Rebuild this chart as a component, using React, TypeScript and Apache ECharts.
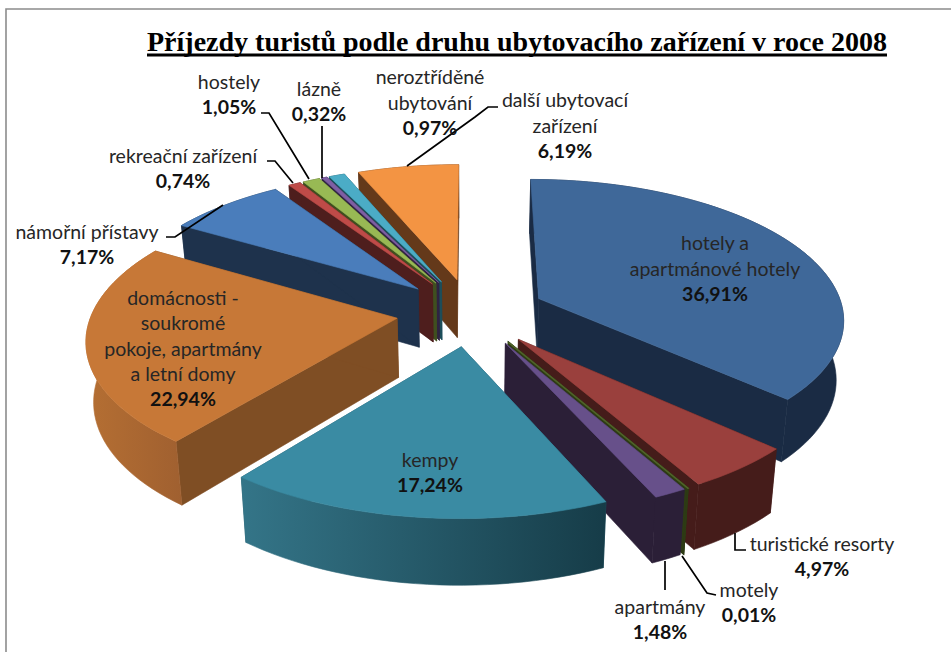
import React, { useEffect, useRef } from "react";
import * as echarts from "echarts";

const titleText = "Příjezdy turistů podle druhu ubytovacího zařízení v roce 2008";
const categories = [
  "hotely a apartmánové hotely", "turistické resorty", "motely", "apartmány", "kempy",
  "domácnosti - soukromé pokoje, apartmány a letní domy", "námořní přístavy", "rekreační zařízení",
  "hostely", "lázně", "neroztříděné ubytování", "další ubytovací zařízení",
];
const values = [36.91, 4.97, 0.01, 1.48, 17.24, 22.94, 7.17, 0.74, 1.05, 0.32, 0.97, 6.19];
const labelLines = [
  ["hotely a", "apartmánové hotely"], ["turistické resorty"], ["motely"], ["apartmány"], ["kempy"],
  ["domácnosti -", "soukromé", "pokoje, apartmány", "a letní domy"], ["námořní přístavy"], ["rekreační zařízení"],
  ["hostely"], ["lázně"], ["neroztříděné", "ubytování"], ["další ubytovací", "zařízení"],
];
const labelAnchors = [
  [715, 268], [822, 556], [749, 602], [660, 619], [430, 472],
  [183, 348], [87, 244], [183, 168], [229, 94], [319, 101], [430, 102], [565, 125],
];
const leaderLines = [
  [[166, 237], [175, 237], [223, 205]],
  [[267, 161], [275, 161], [293, 183]],
  [[261, 113], [269, 113], [309, 179]],
  [[322, 126], [322, 178]],
  [[407, 166], [475, 117], [488, 107], [498, 107]],
  [[735, 533], [735, 550], [746, 550]],
  [[682, 556], [707, 593], [716, 595]],
  [[665, 561], [665, 590]],
];
const topColors = ["#3F6899", "#9A403D", "#4F6228", "#67508A", "#3A8BA3", "#C77837", "#4A7DBB", "#BE4B48", "#98B954", "#7E5FA3", "#4BACC6", "#F39443"];
const radialColors = ["#1A2B44", "#451C1A", "#2D3B14", "#2B1F37", "#1F5566", "#7F4E24", "#1E324C", "#4E1E1D", "#3F4F1F", "#2F2341", "#1D4E5A", "#64391A"];
const outerFrom = ["#1A2B44", "#451C1A", "#2D3B14", "#2B1F37", "#347588", "#B56F33", "#1E324C", "#4E1E1D", "#3F4F1F", "#2F2341", "#1D4E5A", "#64391A"];
const outerTo = ["#1A2B44", "#451C1A", "#2D3B14", "#2B1F37", "#163C48", "#A06030", "#1E324C", "#4E1E1D", "#3F4F1F", "#2F2341", "#1D4E5A", "#64391A"];

// view of the tilted disc
const CX = 471, CY = 312, F = 305, G = 138.5, C = 0.134, EXPLODE = 0.245, H = 59, SHRINK = 0.98;

const rad = (d: number) => (d * Math.PI) / 180;
function topPt(u: number, v: number) {
  const den = 1 + C * v;
  return [CX + (F * u) / den, CY - (G * v) / den];
}
function botPt(u: number, v: number) {
  const den = 1 + C * v;
  const p = topPt(u, v);
  return [CX + SHRINK * (p[0] - CX), CY + SHRINK * (p[1] - CY) + H / den];
}

const total = values.reduce((a, b) => a + b, 0);
let acc = 0;
const sliceRows = values.map((v, i) => {
  const s = (acc / total) * 360;
  acc += v;
  return [s, (acc / total) * 360, i, v];
});
// back-to-front painting order
const paintRows = [...sliceRows].sort(
  (a, b) => Math.cos(rad((b[0] + b[1]) / 2)) - Math.cos(rad((a[0] + a[1]) / 2))
);

function renderSlice(_p: any, api: any) {
  const a0 = api.value(0), a1 = api.value(1), i = api.value(2), val = api.value(3);
  const m = rad((a0 + a1) / 2);
  const ox = EXPLODE * Math.sin(m), oy = EXPLODE * Math.cos(m);
  const disc: number[][] = [];
  const steps = Math.max(1, Math.ceil((a1 - a0) / 2));
  for (let k = 0; k <= steps; k++) {
    const t = rad(a0 + ((a1 - a0) * k) / steps);
    disc.push([ox + Math.sin(t), oy + Math.cos(t)]);
  }
  const first = disc[0], last = disc[disc.length - 1];
  const sw = val < 0.1 ? 1.6 : 0.6;
  const poly = (points: number[][], fill: any, stroke: any, w = sw) => ({
    type: "polygon", shape: { points }, style: { fill, stroke, lineWidth: w }, silent: true,
  });
  const radial = (e: number[]) =>
    poly([topPt(ox, oy), topPt(e[0], e[1]), botPt(e[0], e[1]), botPt(ox, oy)], radialColors[i], radialColors[i]);
  const outerPts = [...disc.map((d) => topPt(d[0], d[1])), ...disc.slice().reverse().map((d) => botPt(d[0], d[1]))];
  const outerFill = {
    type: "linear", x: 0, y: 0, x2: 1, y2: 0,
    colorStops: [{ offset: 0, color: outerFrom[i] }, { offset: 1, color: outerTo[i] }],
  };
  return {
    type: "group",
    children: [
      radial(first),
      radial(last),
      poly(outerPts, outerFill, outerFill, 0.6),
      poly([topPt(ox, oy), ...disc.map((d) => topPt(d[0], d[1]))], topColors[i], topColors[i]),
    ],
  };
}

const pct = (v: number) => v.toFixed(2).replace(".", ",") + "%";

export default function App() {
  const ref = useRef<HTMLDivElement>(null);
  useEffect(() => {
    const chart = echarts.init(ref.current!, undefined, { renderer: "svg" });
    const labelFont = "Lato";
    const texts = categories.map((_c, i) => ({
      type: "text",
      x: labelAnchors[i][0],
      y: labelAnchors[i][1],
      z: 20,
      style: {
        text: [...labelLines[i].map((l) => `{n|${l}}`), `{b|${pct(values[i])}}`].join("\n"),
        align: "center",
        verticalAlign: "middle",
        rich: {
          n: { fontFamily: labelFont, fontSize: 19.5, lineHeight: 25.3, fill: "#262626", align: "center" },
          b: { fontFamily: labelFont, fontSize: 19.5, fontWeight: "bold", lineHeight: 25.3, fill: "#111111", align: "center" },
        },
      },
    }));
    const lines = leaderLines.map((points) => ({
      type: "polyline",
      z: 19,
      shape: { points },
      style: { stroke: "#000000", lineWidth: 1.7, fill: "none" },
    }));
    chart.setOption({
      animation: false,
      backgroundColor: "#ffffff",
      title: {
        text: titleText,
        left: 142,
        top: 22,
        textStyle: { fontFamily: "Liberation Serif", fontWeight: "bold", fontSize: 28, color: "#000000" },
      },
      graphic: [
        { type: "rect", z: 1, shape: { x: 6, y: 9, width: 960, height: 660 }, style: { fill: "none", stroke: "#8C8C8C", lineWidth: 1.6 } },
        { type: "rect", z: 20, shape: { x: 147, y: 53.5, width: 740, height: 3 }, style: { fill: "#000000" } },
        ...lines,
        ...texts,
      ],
      series: [
        {
          type: "custom",
          coordinateSystem: "none",
          renderItem: renderSlice,
          data: paintRows,
          silent: true,
          z: 5,
        },
      ],
    });
    return () => chart.dispose();
  }, []);
  return <div ref={ref} style={{ position: "fixed", left: 0, top: 0, width: 951, height: 652 }} />;
}
